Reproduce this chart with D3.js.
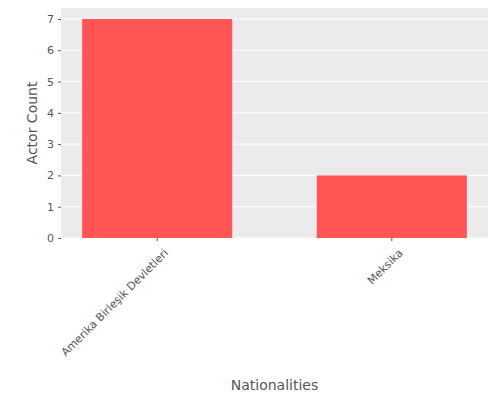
<!DOCTYPE html><html><head><script src="https://cdn.jsdelivr.net/npm/d3@7"></script>
<style>body{margin:0;background:#fff}text{font-family:"DejaVu Sans",sans-serif}</style></head><body>
<svg id="c" width="500" height="400"></svg>
<script>
const categories=["Amerika Birleşik Devletleri","Meksika"];
const values=[7,2];
const yTicks=[0,1,2,3,4,5,6,7];
const svg=d3.select("#c");
const L=61,R=488,T=8,B=238;
const x=d3.scaleBand().domain(categories).range([L,R]).paddingInner(0.36).paddingOuter(0.09);
const y=d3.scaleLinear().domain([0,7.35]).range([B,T]);
svg.append("rect").attr("x",L).attr("y",T).attr("width",R-L).attr("height",B-T).attr("fill","#EBEBEB");
svg.selectAll(".g").data(yTicks).enter().append("line").attr("x1",L).attr("x2",R)
 .attr("y1",d=>y(d)).attr("y2",d=>y(d)).attr("stroke","#fff").attr("stroke-width",1);
svg.selectAll(".b").data(values).enter().append("rect").attr("x",(d,i)=>x(categories[i])).attr("width",x.bandwidth())
 .attr("y",d=>y(d)).attr("height",d=>B-y(d)).attr("fill","#FF5555");
const ya=svg.append("g").attr("transform",`translate(${L},0)`).call(d3.axisLeft(y).tickValues(yTicks).tickSize(3).tickPadding(4));
ya.select(".domain").remove();
ya.selectAll("line").attr("stroke","#555");
ya.selectAll("text").attr("fill","#555").style("font-size","11px");
const xa=svg.append("g").attr("transform",`translate(0,${B})`).call(d3.axisBottom(x).tickSize(3).tickPadding(4));
xa.select(".domain").remove();
xa.selectAll("line").attr("stroke","#555");
xa.selectAll("text").attr("fill","#555").style("font-size","11px").attr("text-anchor","end")
 .attr("transform","translate(4,8) rotate(-45)").attr("dy","0.35em");
svg.append("text").attr("x",(L+R)/2).attr("y",390).attr("text-anchor","middle").attr("fill","#555").style("font-size","14px").text("Nationalities");
svg.append("text").attr("transform",`translate(37,${(T+B)/2}) rotate(-90)`).attr("text-anchor","middle").attr("fill","#555").style("font-size","14px").text("Actor Count");
</script></body></html>
